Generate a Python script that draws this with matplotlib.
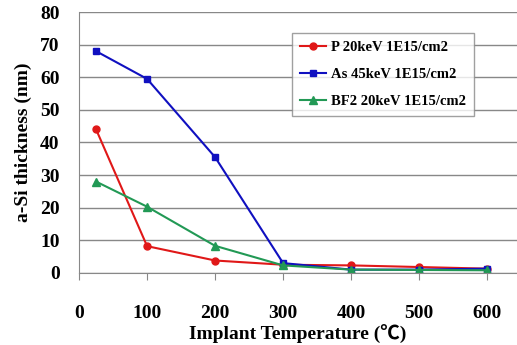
import matplotlib
matplotlib.use("Agg")
import matplotlib.pyplot as plt

temps = [25, 100, 200, 300, 400, 500, 600]
p_vals = [44.0, 8.2, 3.8, 2.5, 2.3, 1.8, 1.3]
as_vals = [68.0, 59.5, 35.5, 3.0, 1.0, 1.0, 1.3]
bf2_vals = [28.0, 20.3, 8.3, 2.3, 1.0, 0.9, 0.8]
labels = ["P 20keV 1E15/cm2", "As 45keV 1E15/cm2", "BF2 20keV 1E15/cm2"]
xticks = [0, 100, 200, 300, 400, 500, 600]
yticks = [0, 10, 20, 30, 40, 50, 60, 70, 80]

serif = ["Liberation Serif", "Noto Sans CJK JP", "DejaVu Serif"]

fig = plt.figure(figsize=(5.17, 3.45), dpi=100)
ax = fig.add_axes([0.153, 0.209, 0.847, 0.756])

ax.plot(temps, p_vals, color="#e01818", marker="o", markersize=5, lw=1.5, label=labels[0])
ax.plot(temps, as_vals, color="#1010c0", marker="s", markersize=5, lw=1.5, label=labels[1])
ax.plot(temps, bf2_vals, color="#229955", marker="^", markersize=6, lw=1.5, label=labels[2])

ax.set_xlim(0, 644)
ax.set_ylim(0, 80)
ax.set_yticks(yticks)
ax.set_xticks(xticks)
ax.yaxis.grid(True, color="#888888", lw=1)
ax.set_axisbelow(True)
for s in ["top", "right"]:
    ax.spines[s].set_visible(False)
ax.spines["left"].set_color("#888888")
ax.spines["bottom"].set_color("#888888")
ax.tick_params(axis="y", length=0, pad=14)
ax.tick_params(axis="x", length=5, color="#888888", pad=18)
for t in ax.get_xticklabels() + ax.get_yticklabels():
    t.set_fontfamily(serif)
    t.set_fontweight("bold")
    t.set_fontsize(14)

ax.set_xlabel("Implant Temperature (℃)", fontfamily=serif, fontweight="bold", fontsize=14, labelpad=2)
ax.set_ylabel("a-Si thickness (nm)", fontfamily=serif, fontweight="bold", fontsize=14, labelpad=6)

leg = ax.legend(loc="upper left", bbox_to_anchor=(0.486, 0.92), prop={"family": serif, "weight": "bold", "size": 10.5},
                frameon=True, fancybox=False, shadow=False, edgecolor="#888888", borderpad=0.55,
                labelspacing=0.95, handlelength=1.8, handletextpad=0.3, borderaxespad=0)
leg.get_frame().set_linewidth(1)

fig.savefig("out.png", dpi=100)
